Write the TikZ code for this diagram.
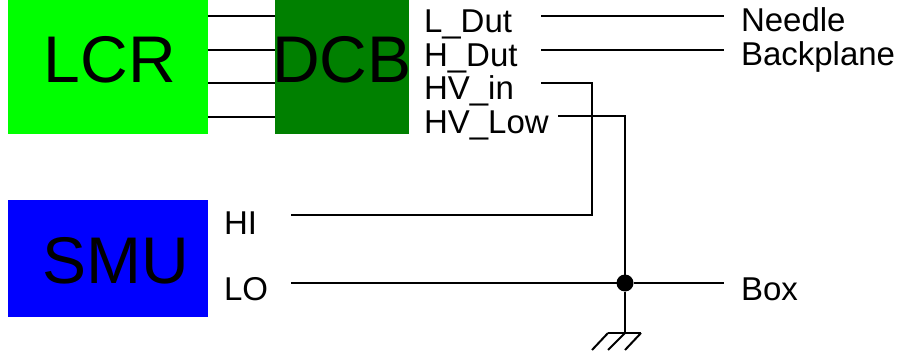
\documentclass[tikz,border=0pt]{standalone}
\usepackage{fontspec}
\setmainfont{Liberation Sans}
\usepackage{tikz}
\usetikzlibrary{calc}
\begin{document}
\begin{tikzpicture}[x=1pt,y=-1pt,auto,line width=2pt,outer sep=0pt,
        box/.style={rectangle,inner sep=0,font=\fontsize{66}{66}\selectfont,text=black},
        pin/.style={anchor=base west,inner sep=0,font=\fontsize{33}{33}\selectfont,text=black},
        dot/.style={circle,fill=black,inner sep=0,minimum size=17pt}]
        \useasboundingbox (0,0) rectangle (899,358);
        \node[box,fill=green,minimum width=200pt,text height=83pt,text depth=51pt] (LCR) at (108,67) {\hspace*{4pt}LCR};
        \node[box,fill=green!50!black,minimum width=134pt,text height=83pt,text depth=51pt] (DCB) at (342,67) {\makebox[134pt][c]{DCB}};
        \node[box,fill=blue,minimum width=200pt,text height=83pt,text depth=34pt] (SMU) at (108,258.5) {\hspace*{16pt}SMU};
        \node[pin] (ldut) at (424,33) {L\_Dut};
        \node[pin] (hdut) at (424,67) {H\_Dut};
        \node[pin] (hvin) at (424,100) {HV\_in};
        \node[pin] (hvlow) at (424,134) {HV\_Low};
        \node[pin] (hi) at (224,234) {HI};
        \node[pin] (lo) at (224,300) {LO};
        \node[pin] (needle) at (741,32) {Needle};
        \node[pin] (backplane) at (741,66) {Backplane};
        \node[pin] (boxout) at (741,300) {Box};
        % wire ends
        \coordinate (a1) at (LCR.east |- 0,16);
        \coordinate (a2) at (LCR.east |- 0,50);
        \coordinate (a3) at (LCR.east |- 0,83);
        \coordinate (a4) at (LCR.east |- 0,117);
        \coordinate (b1) at (DCB.west |- 0,16);
        \coordinate (b2) at (DCB.west |- 0,50);
        \coordinate (b3) at (DCB.west |- 0,83);
        \coordinate (b4) at (DCB.west |- 0,117);
        \coordinate (c1) at (541,16);
        \coordinate (c2) at (724,16);
        \coordinate (c3) at (541,50);
        \coordinate (c4) at (724,50);
        \coordinate (d1) at (541,83);
        \coordinate (d2) at (592,83);
        \coordinate (d3) at (592,215);
        \coordinate (d4) at (291,215);
        \coordinate (e1) at (558,116);
        \coordinate (e2) at (625,116);
        \coordinate (f1) at (291,283);
        \coordinate (f2) at (724,283);
        \node[dot] (join) at (625,283) {};
        % ground
        \coordinate (g0) at (625,333);
        \coordinate (g1) at (608,333);
        \coordinate (g2) at (641,333);
        \coordinate (h1) at (592,350);
        \coordinate (h2) at (608,350);
        \coordinate (h3) at (625,350);
        \path[draw]
          (a1) edge (b1)
          (a2) edge (b2)
          (a3) edge (b3)
          (a4) edge (b4)
          (c1) edge (c2)
          (c3) edge (c4)
          (f1) edge (join)
          (join) edge (f2)
          (join) edge (g0)
          (g1) edge (g2)
          (g1) edge (h1)
          (g0) edge (h2)
          (g2) edge (h3)
          ;
        \draw[line join=miter] (d1) -- (d2) -- (d3) -- (d4);
        \draw (e1) -- (e2) -- (join);
      \end{tikzpicture}
\end{document}
